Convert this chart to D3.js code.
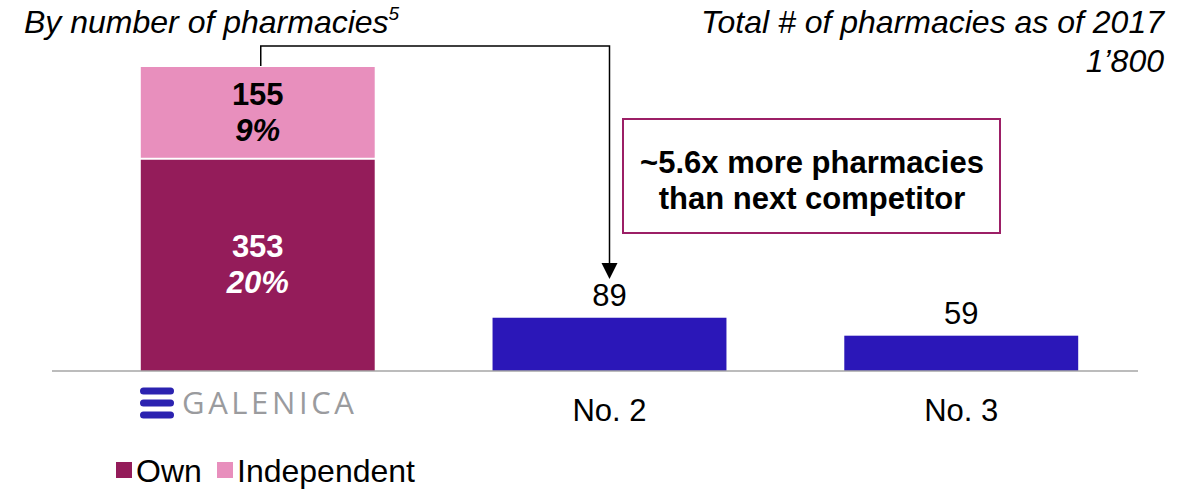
<!DOCTYPE html>
<html>
  <head>
    <meta charset="utf-8">
    <script src="https://d3js.org/d3.v7.min.js"></script>
    <style>
      body { margin: 0; background: #fff; }
      svg { font-family: "Liberation Sans", Arial, sans-serif; }
    </style>
  </head>
  <body>
    <svg id="chart" width="1191" height="489"></svg>
    <script>
      // data
      const categories = ['Galenica', 'No. 2', 'No. 3']
      const ownValues = [353, 89, 59]
      const independentValues = [155, 0, 0]
      const ownShares = ['20%', '', '']
      const independentShares = ['9%', '', '']
      const totalPharmacies = "1’800"

      const colOwn = '#941c5a'
      const colInd = '#e88fbd'
      const colComp = '#2b17b8'

      const svg = d3.select('#chart')
      const baseY = 371

      const x = d3.scaleBand().domain(categories).range([81, 1138]).paddingInner(0.335).paddingOuter(0.17)
      const y = d3.scaleLinear().domain([0, 508]).range([baseY, 67])

      // bars
      categories.forEach((c, i) => {
        const own = ownValues[i], ind = independentValues[i]
        svg.append('rect')
          .attr('x', x(c)).attr('width', x.bandwidth())
          .attr('y', y(own)).attr('height', baseY - y(own))
          .attr('fill', i === 0 ? colOwn : colComp)
        if (ind > 0) {
          svg.append('rect')
            .attr('x', x(c)).attr('width', x.bandwidth())
            .attr('y', y(own + ind)).attr('height', y(own) - y(own + ind) - 2)
            .attr('fill', colInd)
        }
      })

      // axis line
      svg.append('line').attr('x1', 52).attr('x2', 1138).attr('y1', baseY).attr('y2', baseY)
        .attr('stroke', '#a6a6a6').attr('stroke-width', 1.5)

      // labels in galenica bar
      const cx0 = x(categories[0]) + x.bandwidth() / 2
      const midInd = (y(ownValues[0]) + y(ownValues[0] + independentValues[0])) / 2
      svg.append('text').attr('x', cx0).attr('y', midInd - 8).attr('text-anchor', 'middle')
        .attr('font-size', 31).attr('font-weight', 'bold').text(independentValues[0])
      svg.append('text').attr('x', cx0).attr('y', midInd + 28).attr('text-anchor', 'middle')
        .attr('font-size', 31).attr('font-weight', 'bold').attr('font-style', 'italic').text(independentShares[0])
      const midOwn = (y(ownValues[0]) + baseY) / 2
      svg.append('text').attr('x', cx0).attr('y', midOwn - 8).attr('text-anchor', 'middle').attr('fill', '#fff')
        .attr('font-size', 31).attr('font-weight', 'bold').text(ownValues[0])
      svg.append('text').attr('x', cx0).attr('y', midOwn + 28).attr('text-anchor', 'middle').attr('fill', '#fff')
        .attr('font-size', 31).attr('font-weight', 'bold').attr('font-style', 'italic').text(ownShares[0])

      // competitor value labels
      categories.slice(1).forEach((c, j) => {
        const v = ownValues[j + 1]
        svg.append('text').attr('x', x(c) + x.bandwidth() / 2).attr('y', y(v) - 12)
          .attr('text-anchor', 'middle').attr('font-size', 31).text(v)
        svg.append('text').attr('x', x(c) + x.bandwidth() / 2).attr('y', 421)
          .attr('text-anchor', 'middle').attr('font-size', 31).text(c)
      })

      // galenica logo
      const logoX = 140
      ;[391, 403, 415].forEach(yy => {
        svg.append('rect').attr('x', logoX).attr('y', yy - 3.5).attr('width', 34).attr('height', 7)
          .attr('rx', 3.5).attr('fill', '#2b22b0')
      })
      svg.append('text').attr('x', 182).attr('y', 414).attr('font-size', 31)
        .attr('font-family', '"Open Sans", sans-serif').attr('letter-spacing', 3.6)
        .attr('fill', '#9a9b9e').text('GALENICA')

      // arrow
      const x2 = x(categories[1]) + x.bandwidth() / 2
      svg.append('path')
        .attr('d', `M${cx0 + 3},${y(508) - 1} V46 H${x2} V266`)
        .attr('fill', 'none').attr('stroke', '#000').attr('stroke-width', 1.5)
      svg.append('path').attr('d', `M${x2 - 8},263 L${x2 + 8},263 L${x2},279 Z`).attr('fill', '#000')

      // callout box
      svg.append('rect').attr('x', 623).attr('y', 119).attr('width', 377).attr('height', 114)
        .attr('fill', '#fff').attr('stroke', '#9c1f66').attr('stroke-width', 2)
      svg.append('text').attr('x', 812).attr('y', 173).attr('text-anchor', 'middle')
        .attr('font-size', 31).attr('font-weight', 'bold').text('~5.6x more pharmacies')
      svg.append('text').attr('x', 812).attr('y', 209).attr('text-anchor', 'middle')
        .attr('font-size', 31).attr('font-weight', 'bold').text('than next competitor')

      // titles
      const t = svg.append('text').attr('x', 24).attr('y', 33).attr('font-size', 32).attr('font-style', 'italic')
      t.append('tspan').text('By number of pharmacies')
      t.append('tspan').attr('font-size', 19).attr('dy', -13).text('5')
      svg.append('text').attr('x', 1164).attr('y', 33).attr('text-anchor', 'end')
        .attr('font-size', 32).attr('font-style', 'italic').text('Total # of pharmacies as of 2017')
      svg.append('text').attr('x', 1164).attr('y', 72).attr('text-anchor', 'end')
        .attr('font-size', 32).attr('font-style', 'italic').text(totalPharmacies)

      // legend
      const legend = [['Own', colOwn, 116], ['Independent', colInd, 217]]
      legend.forEach(([name, col, lx]) => {
        svg.append('rect').attr('x', lx).attr('y', 462).attr('width', 16).attr('height', 16).attr('fill', col)
        svg.append('text').attr('x', lx + 20).attr('y', 482).attr('font-size', 32).text(name)
      })
    </script>
  </body>
</html>
